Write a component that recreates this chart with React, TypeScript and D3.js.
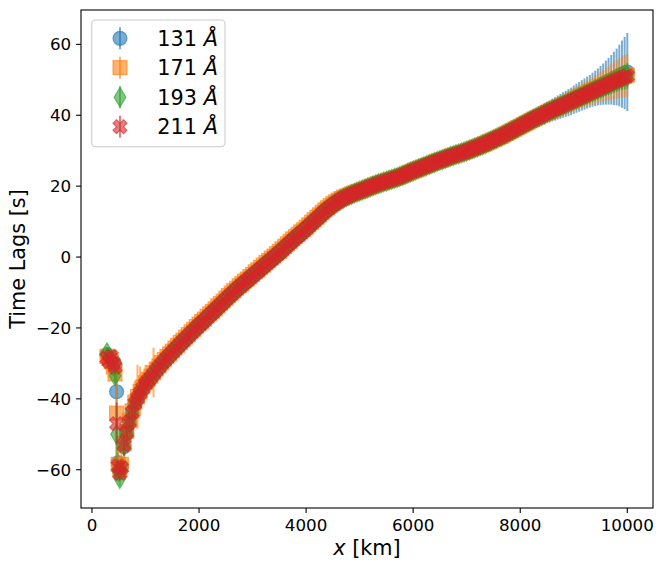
import React from 'react';
import * as d3 from 'd3';

// distance along the loop (km)
const distanceKm = [
  280, 320, 360, 400, 430, 460, 490, 520, 550, 600, 650, 700, 750, 800, 850, 900, 950,
  1000, 1050, 1100, 1150, 1200, 1250, 1300, 1350, 1400, 1450,
  1500, 1550, 1600, 1650, 1700, 1750, 1800, 1850, 1900, 1950,
  2000, 2050, 2100, 2150, 2200, 2250, 2300, 2350, 2400, 2450,
  2500, 2550, 2600, 2650, 2700, 2750, 2800, 2850, 2900, 2950,
  3000, 3050, 3100, 3150, 3200, 3250, 3300, 3350, 3400, 3450,
  3500, 3550, 3600, 3650, 3700, 3750, 3800, 3850, 3900, 3950,
  4000, 4050, 4100, 4150, 4200, 4250, 4300, 4350, 4400, 4450,
  4500, 4550, 4600, 4650, 4700, 4750, 4800, 4850, 4900, 4950,
  5000, 5050, 5100, 5150, 5200, 5250, 5300, 5350, 5400, 5450,
  5500, 5550, 5600, 5650, 5700, 5750, 5800, 5850, 5900, 5950,
  6000, 6050, 6100, 6150, 6200, 6250, 6300, 6350, 6400, 6450,
  6500, 6550, 6600, 6650, 6700, 6750, 6800, 6850, 6900, 6950,
  7000, 7050, 7100, 7150, 7200, 7250, 7300, 7350, 7400, 7450,
  7500, 7550, 7600, 7650, 7700, 7750, 7800, 7850, 7900, 7950,
  8000, 8050, 8100, 8150, 8200, 8250, 8300, 8350, 8400, 8450,
  8500, 8550, 8600, 8650, 8700, 8750, 8800, 8850, 8900, 8950,
  9000, 9050, 9100, 9150, 9200, 9250, 9300, 9350, 9400, 9450,
  9500, 9550, 9600, 9650, 9700, 9750, 9800, 9850, 9900, 9950,
  10000,
];

// time lags (s) per channel
const lag131 = [
  -27.5, -29, -28.5, -29.5, -30.5, -38, -58, -60, -59, -53.5, -49.8, -46.7, -44, -41.5, -40, -38.5, -37.2,
  -35.8, -34.9, -34.0, -33.0, -32.0, -31.1, -30.2, -29.3, -28.5, -27.7,
  -26.9, -26.1, -25.3, -24.5, -23.8, -23.0, -22.3, -21.5, -20.8, -20.0,
  -19.3, -18.6, -17.9, -17.1, -16.4, -15.7, -15.0, -14.2, -13.5, -12.8,
  -12.0, -11.3, -10.6, -9.9, -9.2, -8.5, -7.9, -7.2, -6.6, -5.9,
  -5.3, -4.6, -4.0, -3.3, -2.7, -2.0, -1.4, -0.7, -0.1, 0.6,
  1.2, 1.9, 2.6, 3.3, 4.0, 4.7, 5.4, 6.0, 6.7, 7.3,
  8.0, 8.7, 9.4, 10.1, 10.8, 11.5, 12.2, 12.9, 13.5, 14.1,
  14.7, 15.2, 15.7, 16.2, 16.6, 17.0, 17.3, 17.7, 18.0, 18.3,
  18.6, 18.9, 19.2, 19.5, 19.8, 20.1, 20.4, 20.7, 20.9, 21.2,
  21.4, 21.7, 21.9, 22.2, 22.4, 22.7, 23.0, 23.3, 23.7, 24.0,
  24.3, 24.6, 24.9, 25.2, 25.5, 25.8, 26.1, 26.4, 26.7, 27.0,
  27.3, 27.5, 27.8, 28.1, 28.4, 28.6, 28.9, 29.1, 29.4, 29.6,
  29.6, 29.9, 30.2, 30.5, 30.8, 31.1, 31.4, 31.7, 32.1, 32.4,
  32.8, 33.1, 33.5, 33.8, 34.2, 34.6, 35.0, 35.4, 35.8, 36.2,
  36.9, 37.3, 37.7, 38.1, 38.5, 38.9, 39.3, 39.6, 40.0, 40.4,
  40.8, 41.1, 41.5, 41.8, 42.2, 42.5, 42.9, 43.2, 43.6, 43.9,
  44.4, 44.8, 45.2, 45.6, 46.0, 46.4, 46.8, 47.2, 47.6, 48.0,
  48.4, 48.8, 49.2, 49.6, 50.0, 50.4, 50.8, 51.2, 51.6, 51.9,
  52.2,
];
const lag171 = [
  -28, -28.5, -29.5, -31, -33, -44, -58.5, -60, -58.5, -52.6, -49.1, -46.1, -43.4, -40.9, -39.4, -37.9, -36.6,
  -35.4, -34.5, -33.6, -32.6, -31.6, -30.7, -29.8, -28.9, -28.1, -27.3,
  -26.5, -25.7, -24.9, -24.1, -23.4, -22.6, -21.9, -21.1, -20.4, -19.6,
  -18.9, -18.2, -17.5, -16.7, -16.0, -15.3, -14.6, -13.8, -13.1, -12.4,
  -11.6, -10.9, -10.2, -9.5, -8.8, -8.1, -7.5, -6.8, -6.2, -5.5,
  -4.9, -4.2, -3.6, -2.9, -2.3, -1.6, -1.0, -0.3, 0.3, 1.0,
  1.6, 2.3, 3.0, 3.7, 4.4, 5.1, 5.8, 6.4, 7.1, 7.7,
  8.4, 9.1, 9.8, 10.5, 11.2, 11.9, 12.6, 13.3, 13.9, 14.5,
  15.1, 15.6, 16.1, 16.5, 16.9, 17.2, 17.5, 17.8, 18.1, 18.4,
  18.6, 18.9, 19.2, 19.5, 19.8, 20.1, 20.4, 20.7, 20.9, 21.2,
  21.4, 21.7, 21.9, 22.2, 22.4, 22.7, 23.0, 23.3, 23.7, 24.0,
  24.3, 24.6, 24.9, 25.2, 25.5, 25.8, 26.1, 26.4, 26.7, 27.0,
  27.3, 27.5, 27.8, 28.1, 28.4, 28.6, 28.9, 29.1, 29.4, 29.6,
  29.9, 30.2, 30.5, 30.8, 31.1, 31.4, 31.7, 32.0, 32.4, 32.7,
  33.1, 33.4, 33.8, 34.1, 34.5, 34.9, 35.3, 35.7, 36.1, 36.5,
  36.9, 37.3, 37.7, 38.1, 38.5, 38.9, 39.3, 39.6, 40.0, 40.4,
  40.8, 41.1, 41.5, 41.8, 42.2, 42.5, 42.9, 43.2, 43.6, 43.9,
  44.5, 44.8, 45.2, 45.5, 45.9, 46.2, 46.6, 46.9, 47.3, 47.6,
  48.0, 48.3, 48.7, 49.0, 49.4, 49.7, 50.1, 50.4, 50.7, 51.0,
  51.3,
];
const lag193 = [
  -27, -28.5, -29, -30.5, -33.5, -50, -60.5, -62.5, -60, -53.3, -49.7, -46.6, -43.9, -41.4, -39.9, -38.4, -37.1,
  -35.8, -34.9, -34.0, -33.0, -32.0, -31.1, -30.2, -29.3, -28.5, -27.7,
  -26.9, -26.1, -25.3, -24.5, -23.8, -23.0, -22.3, -21.5, -20.8, -20.0,
  -19.3, -18.6, -17.9, -17.1, -16.4, -15.7, -15.0, -14.2, -13.5, -12.8,
  -12.0, -11.3, -10.6, -9.9, -9.2, -8.5, -7.9, -7.2, -6.6, -5.9,
  -5.3, -4.6, -4.0, -3.3, -2.7, -2.0, -1.4, -0.7, -0.1, 0.6,
  1.2, 1.9, 2.6, 3.3, 4.0, 4.7, 5.4, 6.0, 6.7, 7.3,
  8.0, 8.7, 9.4, 10.1, 10.8, 11.5, 12.2, 12.9, 13.5, 14.1,
  14.7, 15.2, 15.7, 16.2, 16.6, 17.0, 17.3, 17.7, 18.0, 18.3,
  18.6, 18.9, 19.2, 19.5, 19.8, 20.1, 20.4, 20.7, 20.9, 21.2,
  21.4, 21.7, 21.9, 22.2, 22.4, 22.7, 23.0, 23.3, 23.7, 24.0,
  24.3, 24.6, 24.9, 25.2, 25.5, 25.8, 26.1, 26.4, 26.7, 27.0,
  27.3, 27.5, 27.8, 28.1, 28.4, 28.6, 28.9, 29.1, 29.4, 29.6,
  29.9, 30.2, 30.5, 30.8, 31.1, 31.4, 31.7, 32.0, 32.4, 32.7,
  33.1, 33.4, 33.8, 34.1, 34.5, 34.9, 35.3, 35.7, 36.1, 36.5,
  36.9, 37.3, 37.7, 38.1, 38.5, 38.9, 39.3, 39.6, 40.0, 40.4,
  40.8, 41.1, 41.5, 41.8, 42.2, 42.5, 42.9, 43.2, 43.6, 43.9,
  44.3, 44.6, 45.0, 45.3, 45.7, 46.0, 46.4, 46.7, 47.1, 47.4,
  47.8, 48.1, 48.5, 48.8, 49.2, 49.5, 49.9, 50.2, 50.5, 50.8,
  51.1,
];
const lag211 = [
  -28.5, -29.5, -28, -30, -31, -47, -59, -61, -59.5, -53, -49.5, -46.5, -43.8, -41.3, -39.8, -38.3, -37,
  -35.8, -34.9, -34.0, -33.0, -32.0, -31.1, -30.2, -29.3, -28.5, -27.7,
  -26.9, -26.1, -25.3, -24.5, -23.8, -23.0, -22.3, -21.5, -20.8, -20.0,
  -19.3, -18.6, -17.9, -17.1, -16.4, -15.7, -15.0, -14.2, -13.5, -12.8,
  -12.0, -11.3, -10.6, -9.9, -9.2, -8.5, -7.9, -7.2, -6.6, -5.9,
  -5.3, -4.6, -4.0, -3.3, -2.7, -2.0, -1.4, -0.7, -0.1, 0.6,
  1.2, 1.9, 2.6, 3.3, 4.0, 4.7, 5.4, 6.0, 6.7, 7.3,
  8.0, 8.7, 9.4, 10.1, 10.8, 11.5, 12.2, 12.9, 13.5, 14.1,
  14.7, 15.2, 15.7, 16.2, 16.6, 17.0, 17.3, 17.7, 18.0, 18.3,
  18.6, 18.9, 19.2, 19.5, 19.8, 20.1, 20.4, 20.7, 20.9, 21.2,
  21.4, 21.7, 21.9, 22.2, 22.4, 22.7, 23.0, 23.3, 23.7, 24.0,
  24.3, 24.6, 24.9, 25.2, 25.5, 25.8, 26.1, 26.4, 26.7, 27.0,
  27.3, 27.5, 27.8, 28.1, 28.4, 28.6, 28.9, 29.1, 29.4, 29.6,
  29.9, 30.2, 30.5, 30.8, 31.1, 31.4, 31.7, 32.0, 32.4, 32.7,
  33.1, 33.4, 33.8, 34.1, 34.5, 34.9, 35.3, 35.7, 36.1, 36.5,
  36.9, 37.3, 37.7, 38.1, 38.5, 38.9, 39.3, 39.6, 40.0, 40.4,
  40.8, 41.1, 41.5, 41.8, 42.2, 42.5, 42.9, 43.2, 43.6, 43.9,
  44.3, 44.6, 45.0, 45.3, 45.7, 46.0, 46.4, 46.7, 47.1, 47.4,
  47.8, 48.1, 48.5, 48.8, 49.2, 49.5, 49.9, 50.2, 50.5, 50.8,
  51.1,
];

// uncertainties (s)
const err131 = [
  2, 2, 2.5, 2, 2.5, 10, 3, 3, 2.5, 2.5, 2.5, 2.2, 2.2, 2, 2, 2, 1.8,
  1.8, 1.7, 1.6, 1.6, 1.5, 1.5, 1.5, 1.4, 1.4, 1.4,
  1.4, 1.3, 1.3, 1.3, 1.3, 1.3, 1.3, 1.3, 1.3, 1.3,
  1.2, 1.2, 1.2, 1.2, 1.2, 1.2, 1.2, 1.2, 1.2, 1.2,
  1.2, 1.2, 1.2, 1.2, 1.2, 1.2, 1.2, 1.2, 1.2, 1.2,
  1.2, 1.2, 1.2, 1.2, 1.2, 1.2, 1.2, 1.2, 1.2, 1.2,
  1.2, 1.2, 1.2, 1.2, 1.2, 1.2, 1.2, 1.2, 1.2, 1.2,
  1.2, 1.2, 1.2, 1.2, 1.2, 1.2, 1.2, 1.2, 1.2, 1.2,
  1.2, 1.2, 1.2, 1.2, 1.2, 1.2, 1.2, 1.2, 1.2, 1.2,
  1.3, 1.3, 1.3, 1.3, 1.3, 1.3, 1.3, 1.3, 1.3, 1.3,
  1.3, 1.3, 1.3, 1.3, 1.3, 1.3, 1.3, 1.3, 1.3, 1.3,
  1.4, 1.4, 1.4, 1.4, 1.4, 1.4, 1.4, 1.4, 1.4, 1.4,
  1.4, 1.4, 1.4, 1.4, 1.4, 1.4, 1.4, 1.4, 1.4, 1.4,
  1.5, 1.6, 1.6, 1.7, 1.7, 1.8, 1.8, 1.9, 1.9, 2.0,
  2.0, 2.1, 2.1, 2.2, 2.2, 2.3, 2.3, 2.4, 2.4, 2.5,
  2.5, 2.6, 2.6, 2.7, 2.7, 2.8, 2.8, 2.9, 2.9, 3.0,
  3.0, 3.1, 3.2, 3.3, 3.4, 3.5, 3.6, 3.7, 3.8, 3.9,
  4.0, 4.1, 4.2, 4.3, 4.4, 4.5, 4.6, 4.8, 5.0, 5.2,
  5.5, 5.8, 6.2, 6.6, 7.0, 7.5, 8.0, 8.7, 9.5, 10.2,
  11.0,
];
const err171 = [
  2, 2.5, 2, 2.5, 3, 12, 4, 3, 4, 4, 3, 5, 3, 6, 9, 7, 4,
  5, 3, 4, 7, 3, 2, 1.8, 1.8, 1.8, 1.8,
  1.7, 1.7, 1.7, 1.7, 1.7, 1.6, 1.6, 1.6, 1.6, 1.6,
  1.5, 1.5, 1.5, 1.5, 1.5, 1.5, 1.5, 1.5, 1.5, 1.5,
  1.5, 1.5, 1.5, 1.5, 1.5, 1.5, 1.5, 1.5, 1.5, 1.5,
  1.5, 1.5, 1.5, 1.5, 1.5, 1.5, 1.5, 1.5, 1.5, 1.5,
  1.5, 1.5, 1.5, 1.5, 1.5, 1.5, 1.5, 1.5, 1.5, 1.5,
  1.5, 1.5, 1.5, 1.5, 1.5, 1.5, 1.5, 1.5, 1.5, 1.5,
  1.5, 1.5, 1.5, 1.5, 1.5, 1.5, 1.5, 1.5, 1.5, 1.5,
  1.5, 1.5, 1.5, 1.5, 1.5, 1.5, 1.5, 1.5, 1.5, 1.5,
  1.5, 1.5, 1.5, 1.5, 1.5, 1.5, 1.5, 1.5, 1.5, 1.5,
  1.5, 1.5, 1.5, 1.5, 1.5, 1.5, 1.5, 1.5, 1.5, 1.5,
  1.5, 1.5, 1.5, 1.5, 1.5, 1.5, 1.5, 1.5, 1.5, 1.5,
  1.5, 1.5, 1.5, 1.5, 1.5, 1.5, 1.5, 1.5, 1.5, 1.5,
  1.6, 1.6, 1.6, 1.7, 1.7, 1.7, 1.8, 1.8, 1.8, 1.9,
  1.9, 2.0, 2.0, 2.1, 2.1, 2.2, 2.2, 2.3, 2.3, 2.4,
  2.4, 2.5, 2.5, 2.6, 2.6, 2.7, 2.7, 2.8, 2.9, 3.0,
  3.1, 3.2, 3.3, 3.4, 3.5, 3.6, 3.7, 3.8, 3.9, 4.0,
  4.2, 4.4, 4.6, 4.8, 5.0, 5.2, 5.4, 5.6, 5.8, 6.0,
  6.0,
];
const err193 = [
  1.5, 1.5, 1.5, 1.5, 2, 8, 2, 2, 2, 2.5, 2.5, 2, 2, 2, 2, 1.8, 1.8,
  1.5, 1.5, 1.4, 1.4, 1.3, 1.3, 1.2, 1.2, 1.2, 1.2,
  1.2, 1.2, 1.2, 1.2, 1.2, 1.2, 1.2, 1.2, 1.2, 1.2,
  1.2, 1.2, 1.2, 1.2, 1.2, 1.2, 1.2, 1.2, 1.2, 1.2,
  1.2, 1.2, 1.2, 1.2, 1.2, 1.2, 1.2, 1.2, 1.2, 1.2,
  1.2, 1.2, 1.2, 1.2, 1.2, 1.2, 1.2, 1.2, 1.2, 1.2,
  1.2, 1.2, 1.2, 1.2, 1.2, 1.2, 1.2, 1.2, 1.2, 1.2,
  1.2, 1.2, 1.2, 1.2, 1.2, 1.2, 1.2, 1.2, 1.2, 1.2,
  1.2, 1.2, 1.2, 1.2, 1.2, 1.2, 1.2, 1.2, 1.2, 1.2,
  2.3, 2.3, 2.3, 2.3, 2.3, 2.3, 2.3, 2.3, 2.3, 2.3,
  2.3, 2.3, 2.3, 2.3, 2.3, 2.3, 2.3, 2.3, 2.3, 2.3,
  2.3, 2.3, 2.3, 2.3, 2.3, 2.3, 2.3, 2.3, 2.3, 2.3,
  2.3, 2.3, 2.3, 2.3, 2.3, 2.3, 2.3, 2.3, 2.3, 2.3,
  2.3, 2.3, 2.3, 2.3, 2.3, 2.3, 2.3, 2.3, 2.3, 2.3,
  2.3, 2.3, 2.3, 2.3, 2.3, 2.3, 2.3, 2.3, 2.3, 2.3,
  2.4, 2.4, 2.4, 2.4, 2.4, 2.4, 2.4, 2.4, 2.4, 2.4,
  2.4, 2.4, 2.4, 2.4, 2.4, 2.4, 2.4, 2.4, 2.4, 2.4,
  2.5, 2.5, 2.6, 2.6, 2.7, 2.7, 2.8, 2.8, 2.9, 2.9,
  3.0, 3.0, 3.1, 3.1, 3.2, 3.2, 3.3, 3.3, 3.4, 3.5,
  3.6,
];
const err211 = [
  1.5, 1.5, 1.5, 1.5, 2, 6, 2, 2, 2, 3, 4, 3, 5, 4, 3, 4, 3,
  3, 2, 1.2, 1, 1, 0.9, 0.9, 0.9, 0.9, 0.9,
  0.9, 0.9, 0.9, 0.9, 0.9, 0.9, 0.9, 0.9, 0.9, 0.9,
  0.9, 0.9, 0.9, 0.9, 0.9, 0.9, 0.9, 0.9, 0.9, 0.9,
  0.9, 0.9, 0.9, 0.9, 0.9, 0.9, 0.9, 0.9, 0.9, 0.9,
  0.9, 0.9, 0.9, 0.9, 0.9, 0.9, 0.9, 0.9, 0.9, 0.9,
  0.9, 0.9, 0.9, 0.9, 0.9, 0.9, 0.9, 0.9, 0.9, 0.9,
  0.9, 0.9, 0.9, 0.9, 0.9, 0.9, 0.9, 0.9, 0.9, 0.9,
  0.9, 0.9, 0.9, 0.9, 0.9, 0.9, 0.9, 0.9, 0.9, 0.9,
  0.9, 0.9, 0.9, 0.9, 0.9, 0.9, 0.9, 0.9, 0.9, 0.9,
  0.9, 0.9, 0.9, 0.9, 0.9, 0.9, 0.9, 0.9, 0.9, 0.9,
  0.9, 0.9, 0.9, 0.9, 0.9, 0.9, 0.9, 0.9, 0.9, 0.9,
  0.9, 0.9, 0.9, 0.9, 0.9, 0.9, 0.9, 0.9, 0.9, 0.9,
  0.9, 0.9, 0.9, 0.9, 0.9, 0.9, 0.9, 0.9, 0.9, 0.9,
  0.9, 0.9, 0.9, 0.9, 0.9, 0.9, 0.9, 0.9, 0.9, 0.9,
  0.9, 0.9, 0.9, 0.9, 0.9, 0.9, 0.9, 0.9, 0.9, 0.9,
  0.9, 0.9, 0.9, 0.9, 0.9, 0.9, 0.9, 0.9, 0.9, 0.9,
  1.0, 1.0, 1.0, 1.0, 1.0, 1.0, 1.0, 1.0, 1.0, 1.0,
  1.2, 1.2, 1.2, 1.2, 1.2, 1.2, 1.2, 1.2, 1.2, 1.2,
  1.5,
];

const channels = ['131', '171', '193', '211'];
const channelLags = [lag131, lag171, lag193, lag211];
const channelErrs = [err131, err171, err193, err211];
const channelColors = ['#1f77b4', '#ff7f0e', '#2ca02c', '#d62728'];
const channelMarkers = ['circle', 'square', 'thinDiamond', 'xFilled'];

const xTicks = [0, 2000, 4000, 6000, 8000, 10000];
const yTicks = [-60, -40, -20, 0, 20, 40, 60];

const W = 665;
const H = 570;
const plot = { left: 81, right: 653, top: 10, bottom: 508 };
const MS = 14; // marker size px
const ALPHA = 0.6;
const FONT = 'DejaVu Sans, sans-serif';

const markerPath = (kind: string) => {
  const h = MS / 2;
  if (kind === 'circle') return d3.symbol(d3.symbolCircle, Math.PI * h * h)()!;
  if (kind === 'square') return `M${-h},${-h}H${h}V${h}H${-h}Z`;
  if (kind === 'thinDiamond') {
    const dy = (MS * Math.SQRT2) / 2;
    const dx = dy * 0.6;
    return `M0,${-dy}L${dx},0L0,${dy}L${-dx},0Z`;
  }
  // filled X
  const u = MS / 4;
  const pts = [[-1, -2], [0, -1], [1, -2], [2, -1], [1, 0], [2, 1], [1, 2], [0, 1], [-1, 2], [-2, 1], [-1, 0], [-2, -1]];
  return 'M' + pts.map(([a, b]) => `${a * u},${b * u}`).join('L') + 'Z';
};

const fmtTick = (v: number) => (v < 0 ? '\u2212' + Math.abs(v) : String(v));

export default function App() {
  const x = d3.scaleLinear().domain([-205, 10480]).range([plot.left, plot.right]);
  const y = d3.scaleLinear().domain([-70.8, 69.7]).range([plot.bottom, plot.top]);

  const legendY = [38.3, 67.7, 97.2, 126.7];

  return (
    <svg
      width={W}
      height={H}
      style={{ position: 'absolute', left: 0, top: 0, background: '#fff' }}
      fontFamily={FONT}
    >
      <rect x={0} y={0} width={W} height={H} fill="#fff" />
      <defs>
        <clipPath id="plot-clip">
          <rect x={plot.left} y={plot.top} width={plot.right - plot.left} height={plot.bottom - plot.top} />
        </clipPath>
      </defs>

      <g clipPath="url(#plot-clip)">
        {channels.map((ch, s) => {
          const lags = channelLags[s];
          const errs = channelErrs[s];
          const color = channelColors[s];
          const d = markerPath(channelMarkers[s]);
          const pts = distanceKm
            .map((km, i) => ({ km, lag: lags[i], err: errs[i] }))
            .filter((p) => p.lag !== undefined && p.err !== undefined);
          return (
            <g key={ch}>
              {pts.map((p, i) => (
                <line
                  key={'e' + i}
                  x1={x(p.km)}
                  x2={x(p.km)}
                  y1={y(p.lag - p.err)}
                  y2={y(p.lag + p.err)}
                  stroke={color}
                  strokeOpacity={ALPHA}
                  strokeWidth={2}
                />
              ))}
              {pts.map((p, i) => (
                <path
                  key={'m' + i}
                  d={d}
                  transform={`translate(${x(p.km)},${y(p.lag)})`}
                  fill={color}
                  fillOpacity={ALPHA}
                  stroke={color}
                  strokeOpacity={ALPHA}
                  strokeWidth={1.2}
                />
              ))}
            </g>
          );
        })}
      </g>

      {/* frame */}
      <rect
        x={plot.left}
        y={plot.top}
        width={plot.right - plot.left}
        height={plot.bottom - plot.top}
        fill="none"
        stroke="#000"
        strokeWidth={1.1}
      />

      {/* x axis */}
      {xTicks.map((t) => (
        <g key={'x' + t}>
          <line x1={x(t)} x2={x(t)} y1={plot.bottom} y2={plot.bottom + 4.9} stroke="#000" strokeWidth={1.1} />
          <text x={x(t)} y={530.5} fontSize={16.7} textAnchor="middle" fill="#000">
            {fmtTick(t)}
          </text>
        </g>
      ))}
      <text x={(plot.left + plot.right) / 2} y={555} fontSize={20.8} textAnchor="middle" fill="#000">
        <tspan fontStyle="italic">x</tspan> [km]
      </text>

      {/* y axis */}
      {yTicks.map((t) => (
        <g key={'y' + t}>
          <line x1={plot.left - 4.9} x2={plot.left} y1={y(t)} y2={y(t)} stroke="#000" strokeWidth={1.1} />
          <text x={71.2} y={y(t) + 6} fontSize={16.7} textAnchor="end" fill="#000">
            {fmtTick(t)}
          </text>
        </g>
      ))}
      <text
        transform={`translate(25,${(plot.top + plot.bottom) / 2}) rotate(-90)`}
        fontSize={20.8}
        textAnchor="middle"
        fill="#000"
      >
        Time Lags [s]
      </text>

      {/* legend */}
      <rect x={91.7} y={20} width={133.3} height={126.7} rx={4} fill="#fff" fillOpacity={0.8} stroke="#cccccc" strokeWidth={1.1} />
      {channels.map((ch, s) => {
        const color = channelColors[s];
        const ly = legendY[s];
        return (
          <g key={'leg' + ch}>
            <line x1={120} x2={120} y1={ly - 11} y2={ly + 11} stroke={color} strokeOpacity={ALPHA} strokeWidth={2} />
            <path
              d={markerPath(channelMarkers[s])}
              transform={`translate(120,${ly})`}
              fill={color}
              fillOpacity={ALPHA}
              stroke={color}
              strokeOpacity={ALPHA}
              strokeWidth={1.2}
            />
            <text x={157.3} y={ly + 7.4} fontSize={20.8} fill="#000">
              {ch} <tspan fontStyle="italic">Å</tspan>
            </text>
          </g>
        );
      })}
    </svg>
  );
}
